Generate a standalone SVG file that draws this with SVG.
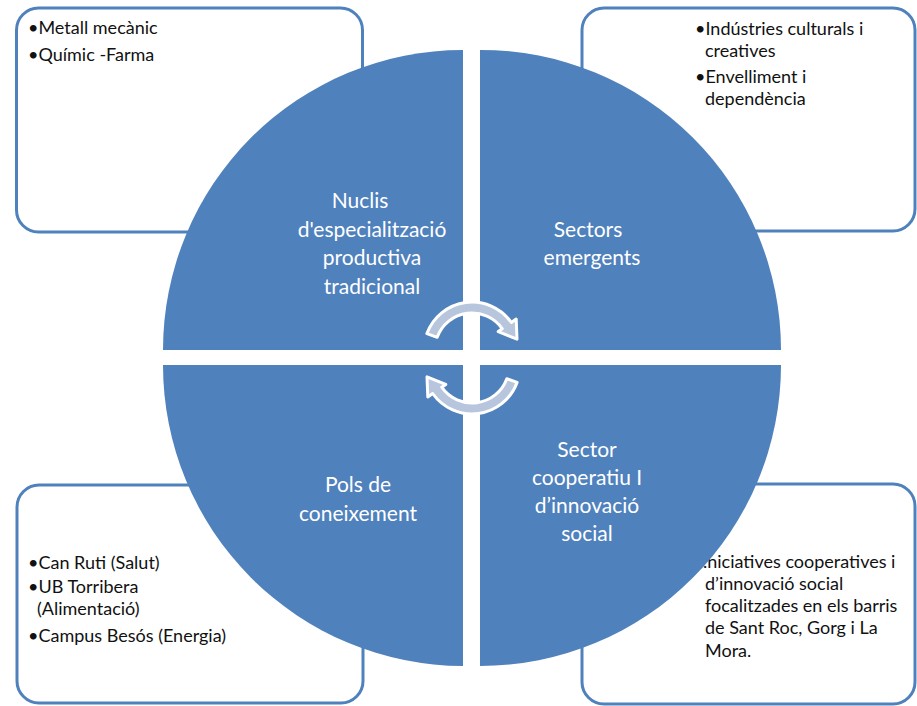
<svg xmlns="http://www.w3.org/2000/svg" xmlns:xlink="http://www.w3.org/1999/xlink" width="917" height="706" viewBox="0 0 917 706">
<style>
.box{fill:#FFFFFF;stroke:#4F81BD;stroke-width:3}
.quad{fill:#4F81BD}
.bt{font-family:Lato,"Liberation Sans",sans-serif;font-size:18px;fill:#111111}
.qt{font-family:Lato,"Liberation Sans",sans-serif;font-size:21px;fill:#FFFFFF;text-anchor:middle}
.arr{fill:#B7C6DD;stroke:#FFFFFF;stroke-width:3;stroke-linejoin:round}
</style>
<defs>
<path id="carrow" d="M -45.1 -16.4 A 48 48 0 0 1 39.3 -27.5 L 44.2 -31.0 L 45.0 -10.8 L 26.2 -18.4 L 30.3 -21.2 A 37 37 0 0 0 -34.8 -12.7 Z"/>
</defs>
<rect width="917" height="706" fill="#FFFFFF"/>
<g id="box-tl">
<rect class="box" x="16.5" y="8" width="346" height="224" rx="22"/>
<text class="bt" x="28" y="34">•Metall mecànic</text>
<text class="bt" x="28" y="61">•Químic -Farma</text>
</g>
<g id="box-tr">
<rect class="box" x="582" y="8" width="333" height="223" rx="22"/>
<text class="bt" x="695" y="35">•Indústries culturals i</text>
<text class="bt" x="705" y="57">creatives</text>
<text class="bt" x="695" y="83">•Envelliment i</text>
<text class="bt" x="705" y="105">dependència</text>
</g>
<g id="box-bl">
<rect class="box" x="17" y="485" width="346" height="218" rx="22"/>
<text class="bt" x="28" y="569">•Can Ruti (Salut)</text>
<text class="bt" x="28" y="593">•UB Torribera</text>
<text class="bt" x="37" y="615">(Alimentació)</text>
<text class="bt" x="28" y="642">•Campus Besós (Energia)</text>
</g>
<g id="box-br">
<rect class="box" x="582" y="484" width="333" height="220" rx="22"/>
<text class="bt" x="703" y="568">.niciatives cooperatives i</text>
<text class="bt" x="705" y="590">d’innovació social</text>
<text class="bt" x="705" y="612">focalitzades en els barris</text>
<text class="bt" x="705" y="634">de Sant Roc, Gorg i La</text>
<text class="bt" x="705" y="657">Mora.</text>
</g>
<g id="quad-tl">
<path class="quad" d="M 463 350 L 163 350 A 300 300 0 0 1 463 50 Z"/>
<text class="qt" x="360" y="208">Nuclis</text>
<text class="qt" x="372" y="237">d'especialització</text>
<text class="qt" x="372" y="265">productiva</text>
<text class="qt" x="372" y="294">tradicional</text>
</g>
<g id="quad-tr">
<path class="quad" d="M 480 350 L 480 50 A 300 300 0 0 1 781 350 Z"/>
<text class="qt" x="588" y="237">Sectors</text>
<text class="qt" x="592" y="265">emergents</text>
</g>
<g id="quad-bl">
<path class="quad" d="M 463 365 L 463 666 A 301 301 0 0 1 163 365 Z"/>
<text class="qt" x="358" y="492">Pols de</text>
<text class="qt" x="358" y="521">coneixement</text>
</g>
<g id="quad-br">
<path class="quad" d="M 480 365 L 781 365 A 301 301 0 0 1 480 666 Z"/>
<text class="qt" x="587" y="457">Sector</text>
<text class="qt" x="587" y="485">cooperatiu I</text>
<text class="qt" x="587" y="513">d’innovació</text>
<text class="qt" x="587" y="541">social</text>
</g>
<g id="connectors">
<use xlink:href="#carrow" href="#carrow" class="arr" transform="translate(472 350)"/>
<use xlink:href="#carrow" href="#carrow" class="arr" transform="translate(472 366) rotate(180)"/>
</g>
</svg>
